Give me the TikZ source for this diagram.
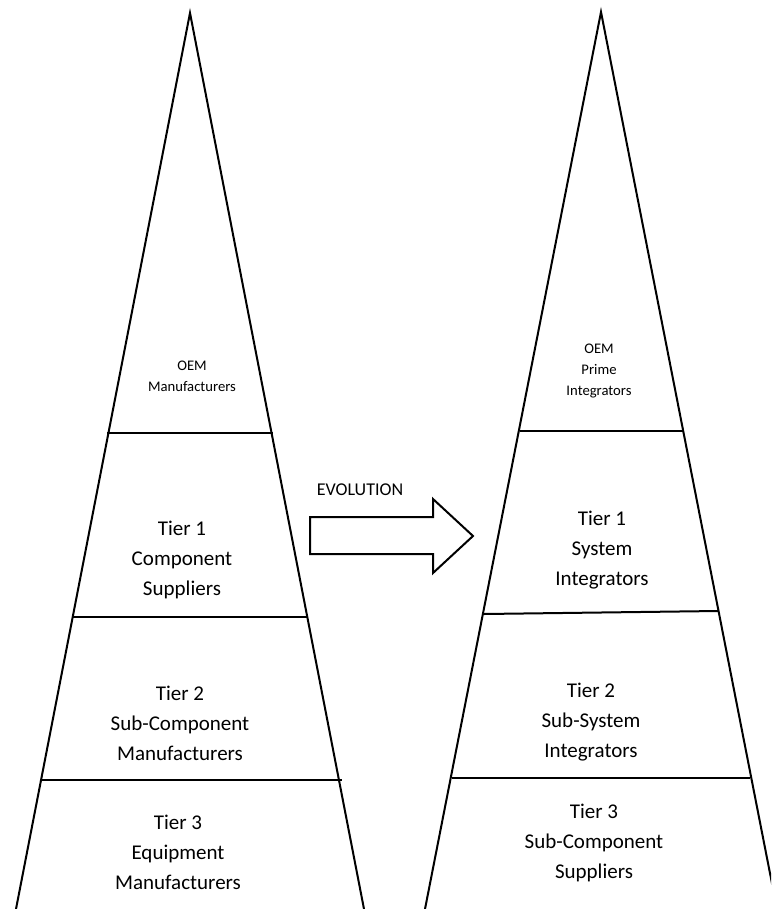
\documentclass[tikz,border=0pt]{standalone}
\usepackage{fontspec}
\setmainfont{Carlito}
\begin{document}
\begin{tikzpicture}[
   x=0.75pt, y=-0.75pt,
   side/.style={line width=1.5pt, line join=miter},
   sep/.style={line width=1.5pt},
   tier/.style={align=center, font=\fontsize{15.75}{22.5}\selectfont},
   oem/.style={align=center, font=\fontsize{11}{15.5}\selectfont},
   evo/.style={line width=1.5pt, line join=miter}
]
\clip (0,0) rectangle (771,909);

% Left pyramid
\draw[side] (16,909) -- (190,13) -- (364,909);
\draw[sep] (107,433) -- (273,433);
\draw[sep] (72,617) -- (308,617);
\draw[sep] (40,780) -- (342,780);
\node[oem] (lOem) at (192,376) {OEM\\Manufacturers};
\node[tier] (lTier1) at (182,560) {Tier 1\\Component\\Suppliers};
\node[tier] (lTier2) at (180,723) {Tier 2\\Sub-Component\\Manufacturers};
\node[tier] (lTier3) at (178,852) {Tier 3\\Equipment\\Manufacturers};

% Evolution arrow
\node[font=\fontsize{13.5}{16}\selectfont] (evolution) at (360,490) {EVOLUTION};
\draw[evo] (310,517) -- (433,517) -- (433,499) -- (473,536) -- (433,573)
   -- (433,554) -- (310,554) -- cycle;

% Right pyramid
\draw[side] (425,909) -- (601,12) -- (777,909);
\draw[sep] (520,431) -- (683,431);
\draw[sep] (484,614) -- (718,611);
\draw[sep] (452,778) -- (750,778);
\node[oem] (rOem) at (599,371) {OEM\\Prime\\Integrators};
\node[tier] (rTier1) at (602,550) {Tier 1\\System\\Integrators};
\node[tier] (rTier2) at (591,722) {Tier 2\\Sub-System\\Integrators};
\node[tier] (rTier3) at (594,843) {Tier 3\\Sub-Component\\Suppliers};

\end{tikzpicture}
\end{document}
